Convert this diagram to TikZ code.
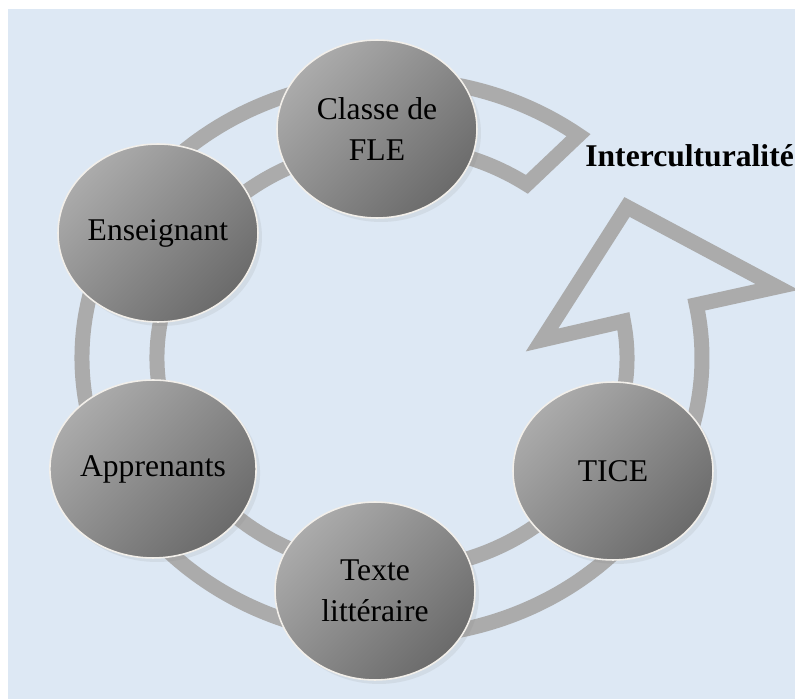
\documentclass[tikz,border=0pt]{standalone}
\usepackage{fontspec}
\setmainfont{Liberation Serif}
\usetikzlibrary{shapes.geometric,shadows}
\definecolor{cyBack}{HTML}{DDE8F4}
\definecolor{cyRing}{HTML}{ABABAB}
\definecolor{cyLight}{HTML}{ABABAB}
\definecolor{cyDark}{HTML}{6B6B6B}
\definecolor{cyRim}{HTML}{F2EFEA}
\tikzset{
  cy canvas/.style={fill=cyBack},
  cy ring/.style={draw=cyRing, line width=.3cm, line join=miter},
  cy node/.style={
    ellipse,
    minimum width=4cm,
    minimum height=3.56cm,
    inner sep=0pt,
    draw=cyRim,
    line width=.9pt,
    top color=cyLight,
    bottom color=cyDark,
    shading angle=45,
    align=center,
    text=black,
    font=\fontsize{18}{23}\selectfont,
    drop shadow={opacity=.12, shadow xshift=.08cm, shadow yshift=-.08cm}
  },
  cy label/.style={font=\bfseries\fontsize{18}{22}\selectfont, text=black, inner sep=0pt}
}
\begin{document}
\begin{tikzpicture}[x=.02cm,y=.02cm]
  \fill[white] (-392,358) rectangle (403,-341);
  \path[cy canvas] (-384,349) rectangle (403,-341);
  \useasboundingbox (-392,358) rectangle (403,-341);

  \draw[cy ring] (53:310 and 279)
    arc[start angle=53, end angle=371, x radius=310, y radius=279]
    -- (385,71) -- (235,151) -- (150,18) -- (10:235 and 212)
    arc[start angle=370, end angle=55, x radius=235, y radius=212] -- cycle;

  \node[cy node] (classe) at (-15,229) {Classe de\\FLE};
  \node[cy node] (enseignant) at (-234,125) {Enseignant};
  \node[cy node] (apprenants) at (-239,-111) {Apprenants};
  \node[cy node] (texte) at (-17,-233) {Texte\\littéraire};
  \node[cy node] (tice) at (221,-113) {TICE};
  \node[cy label, anchor=base west] (intercult) at (193,191) {Interculturalité};
\end{tikzpicture}
\end{document}
